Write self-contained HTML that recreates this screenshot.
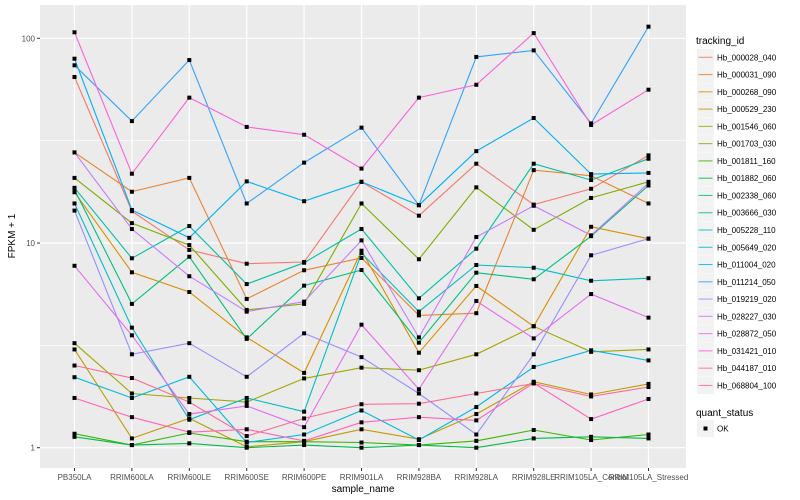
<!DOCTYPE html>
<html><head><meta charset="utf-8"><style>
body{margin:0;background:#fff;}
svg{display:block;font-family:"Liberation Sans",sans-serif;}
</style></head><body>
<svg id="chart" width="800" height="500"></svg>
<script>
const samples=["PB350LA","RRIM600LA","RRIM600LE","RRIM600SE","RRIM600PE","RRIM901LA","RRIM928BA","RRIM928LA","RRIM928LE","RRIM105LA_Control","RRIM105LA_Stressed"];
const seriesNames=["Hb_000028_040","Hb_000031_090","Hb_000268_090","Hb_000529_230","Hb_001546_060","Hb_001703_030","Hb_001811_160","Hb_001882_060","Hb_002338_060","Hb_003666_030","Hb_005228_110","Hb_005649_020","Hb_011004_020","Hb_011214_050","Hb_019219_020","Hb_028227_030","Hb_028872_050","Hb_031421_010","Hb_044187_010","Hb_068804_100"];
const colors=["#F8766D","#EA8331","#D89000","#C09B00","#A3A500","#7CAE00","#39B600","#00BB4E","#00BF7D","#00C1A3","#00BFC4","#00BAE0","#00B0F6","#35A2FF","#9590FF","#C77CFF","#E76BF3","#FA62DB","#FF62BC","#FF6C91"];
const s000028=[64.7,14.3,9.25,7.92,8.08,19.9,13.6,24.4,15.4,18.4,26.8];
const s000031=[27.7,17.8,20.8,5.33,7.36,8.45,4.43,4.54,22.7,21.3,15.6];
const s000268=[17.7,7.19,5.76,3.46,2.32,9.17,2.91,6.17,3.92,12.0,10.5];
const s000529=[3.02,1.11,1.39,1.01,1.07,1.23,1.10,1.46,2.10,1.82,2.05];
const s001546=[3.24,1.84,1.75,1.67,2.18,2.46,2.39,2.86,3.92,2.94,3.02];
const s001703=[20.8,12.5,9.77,4.71,5.04,15.6,8.33,18.7,11.6,16.6,19.9];
const s001811=[1.17,1.03,1.18,1.07,1.07,1.06,1.03,1.08,1.22,1.09,1.16];
const s001882=[1.13,1.03,1.05,1.00,1.03,1.00,1.03,1.00,1.11,1.13,1.11];
const s002338=[18.2,5.04,8.57,3.40,6.19,7.38,3.26,7.16,6.65,10.8,19.1];
const s003666=[18.6,8.42,12.1,6.30,8.01,11.7,5.37,9.38,24.4,20.3,25.8];
const s005228=[15.6,3.86,1.37,1.75,1.50,8.93,4.62,7.81,7.57,6.54,6.73];
const s005649=[2.21,1.75,2.22,1.06,1.16,1.52,1.09,1.58,2.48,2.99,2.67];
const s011004=[79.5,14.5,10.6,20.0,16.0,19.9,15.3,28.1,40.8,21.7,22.0];
const s011214=[73.8,39.4,78.3,15.6,24.7,36.6,15.3,81.1,87.3,38.4,114];
const s019219=[14.4,2.86,3.24,2.22,3.62,2.77,1.84,1.16,2.86,8.71,10.5];
const s028227=[27.7,11.7,6.88,4.62,5.17,10.3,3.46,10.7,15.2,10.9,19.6];
const s028872=[7.74,3.54,1.46,1.60,1.26,3.99,1.93,5.21,3.42,5.63,4.32];
const s031421=[107,21.8,51.3,36.9,33.8,23.1,51.3,59.3,106,37.7,56.1];
const s044187=[1.75,1.41,1.19,1.23,1.08,1.33,1.41,1.36,2.07,1.38,1.73];
const s068804=[2.52,2.19,1.67,1.14,1.39,1.63,1.64,1.84,2.06,1.78,1.98];
const seriesValues=[s000028,s000031,s000268,s000529,s001546,s001703,s001811,s001882,s002338,s003666,s005228,s005649,s011004,s011214,s019219,s028227,s028872,s031421,s044187,s068804];
const yTicks=[1,10,100];
const yMinor=[Math.sqrt(10),Math.sqrt(1000)];

const NS="http://www.w3.org/2000/svg";
const svg=document.getElementById('chart');
const P={l:40,r:686,t:5,b:468};
function xScale(i){return 74.5+57.4*i;}
function yScale(v){return 447.7-204.7*Math.log10(v);}
function mk(tag,attrs,parent){const e=document.createElementNS(NS,tag);for(const k in attrs)e.setAttribute(k,attrs[k]);(parent||svg).appendChild(e);return e;}

const panel=mk('rect',{x:P.l,y:P.t,width:P.r-P.l,height:P.b-P.t,fill:'#EBEBEB'});


yMinor.forEach(v=>{const g=mk('line',{x1:P.l,x2:P.r,y1:yScale(v),y2:yScale(v),stroke:'#fff','stroke-width':0.6});

});
yTicks.forEach(v=>{const y=yScale(v);
const g=mk('line',{x1:P.l,x2:P.r,y1:y,y2:y,stroke:'#fff','stroke-width':1.2});


const tk=mk('line',{x1:P.l-3,x2:P.l,y1:y,y2:y,stroke:'#333','stroke-width':1});


const t=mk('text',{x:P.l-5,y:y+3,'text-anchor':'end','font-size':8,fill:'#4d4d4d'});t.textContent=v;

});
samples.forEach((s,i)=>{const x=xScale(i);
const g=mk('line',{x1:x,x2:x,y1:P.t,y2:P.b,stroke:'#fff','stroke-width':1.2});


const tk=mk('line',{x1:x,x2:x,y1:P.b,y2:P.b+3,stroke:'#333','stroke-width':1});


const t=mk('text',{x:x,y:480,'text-anchor':'middle','font-size':8,fill:'#4d4d4d'});t.textContent=s;

});

seriesValues.forEach((vals,si)=>{
const pts=vals.map((v,i)=>xScale(i).toFixed(1)+','+yScale(v).toFixed(1)).join(' ');
const pl=mk('polyline',{points:pts,fill:'none',stroke:colors[si],'stroke-width':1.1});

});
seriesValues.forEach((vals,si)=>{vals.forEach((v,i)=>{
const p=mk('rect',{x:xScale(i)-2,y:yScale(v)-2,width:4,height:4,fill:'#000'});

});});

const xt=mk('text',{x:(P.l+P.r)/2,y:492,'text-anchor':'middle','font-size':10,fill:'#000'});xt.textContent='sample_name';


const yt=mk('text',{x:0,y:0,'text-anchor':'middle','font-size':10,fill:'#000',transform:'translate(15,236) rotate(-90)'});yt.textContent='FPKM + 1';



const lt=mk('text',{x:696,y:44,'font-size':10,fill:'#000'});lt.textContent='tracking_id';


seriesNames.forEach((n,i)=>{const cy=57.3+17.27*i;
const g=mk('g',{});


mk('rect',{x:697,y:cy-8.5,width:17,height:17,fill:'#F2F2F2'},g);
mk('line',{x1:698.5,x2:712.5,y1:cy,y2:cy,stroke:colors[i],'stroke-width':1.1,opacity:0.8},g);
const t=mk('text',{x:717,y:cy+3,'font-size':8,fill:'#000'},g);t.textContent=n;});
const qt=mk('text',{x:696,y:416,'font-size':10,fill:'#000'});qt.textContent='quant_status';


const qg=mk('g',{});


mk('rect',{x:697,y:420,width:17,height:17,fill:'#F2F2F2'},qg);
mk('rect',{x:703.5,y:426.5,width:4,height:4,fill:'#000'},qg);
const ok=mk('text',{x:717,y:431.5,'font-size':8,fill:'#000'},qg);ok.textContent='OK';
</script>
</body></html>
